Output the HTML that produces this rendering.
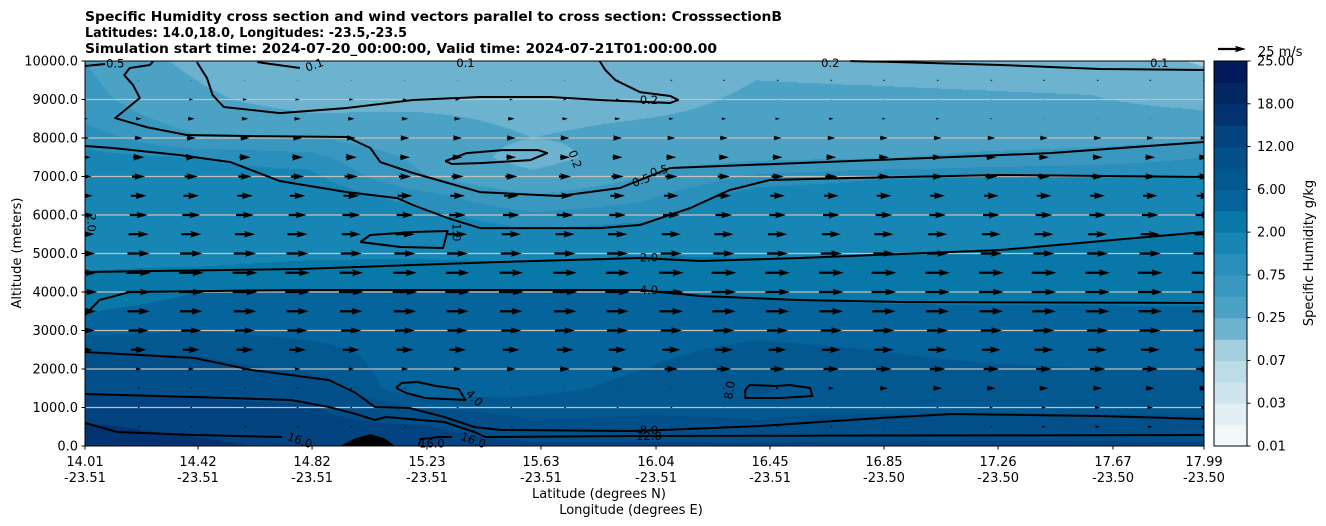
<!DOCTYPE html>
<html><head><meta charset="utf-8"><title>Specific Humidity cross section</title>
<style>
html,body{margin:0;padding:0;background:#fff;}
#wrap{position:relative;width:1326px;height:526px;overflow:hidden;font-family:"DejaVu Sans","Liberation Sans",sans-serif;}
#field{position:absolute;left:85px;top:61px;}
#over{position:absolute;left:0;top:0;}
</style></head>
<body>
<div id="wrap">
<canvas id="field" width="1119" height="385"></canvas>
<svg id="over" width="1326" height="526" xmlns="http://www.w3.org/2000/svg">
 <g font-weight="bold" font-size="13" fill="#000">
  <text x="85" y="21" textLength="697" lengthAdjust="spacingAndGlyphs">Specific Humidity cross section and wind vectors parallel to cross section: CrosssectionB</text>
  <text x="85" y="37" textLength="322" lengthAdjust="spacingAndGlyphs">Latitudes: 14.0,18.0, Longitudes: -23.5,-23.5</text>
  <text x="85" y="53" textLength="632" lengthAdjust="spacingAndGlyphs">Simulation start time: 2024-07-20_00:00:00, Valid time: 2024-07-21T01:00:00.00</text>
 </g>
 <g id="grid"></g>
 <g id="terrain"></g>
 <g id="contours"></g>
 <g id="arrows" clip-path="url(#plotclip)"></g>
 <defs><clipPath id="plotclip"><rect x="85" y="61" width="1119" height="385"/></clipPath></defs>
 <rect x="85" y="61" width="1119" height="385" fill="none" stroke="#000" stroke-width="1"/>
 <g id="yaxis"></g>
 <g id="xaxis"></g>
 <text x="0" y="0" transform="translate(21,253) rotate(-90)" text-anchor="middle" font-size="13">Altitude (meters)</text>
 <text x="599" y="498" text-anchor="middle" font-size="13">Latitude (degrees N)</text>
 <text x="631" y="514" text-anchor="middle" font-size="13">Longitude (degrees E)</text>
 <g id="cbar"></g>
 <text x="0" y="0" transform="translate(1313,253) rotate(-90)" text-anchor="middle" font-size="13">Specific Humidity g/kg</text>
 <g>
  <polygon id="keyarrow" fill="#000"/>
  <text x="1258" y="56" font-size="13">25 m/s</text>
 </g>
</svg>
</div>
<script>
// ---------- data ----------
const levels=[0.01,0.02,0.03,0.05,0.07,0.1,0.25,0.5,0.75,1,2,4,6,8,12,16,18,20,25];
const bandColors=["#f2f8fa","#e2eff4","#cfe5ee","#bcdce7","#a3cfdf","#6db3cf","#4ba2c5","#3a98c0","#2b8fbb","#1886b4","#0878a9","#04649b","#035890","#034f89","#03437f","#023370","#022763","#011a5c"];
const cbarTickLabels=["0.01","0.03","0.07","0.25","0.75","2.00","6.00","12.00","18.00","25.00"];
const gridFrac=[0,0.1,0.2,0.3,0.4,0.5,0.6,0.7,0.8,0.9,1.0];
const gridAlt=[0,500,1000,1500,2000,2500,3000,3500,4000,4500,5000,5500,6000,6500,7000,7500,8000,8500,9000,9500,10000];
const q_f00=[18,16.5,14,11.5,9.5,7.8,5.5,3.9,2.8,2.0,1.9,1.8,1.7,1.5,1.3,1.1,0.9,0.7,0.6,0.55,0.5];
const q_f01=[17,15,13,11,9,7.5,6,5,4,2.1,1.8,1.6,1.4,1.25,1.1,1.0,0.52,0.4,0.3,0.25,0.2];
const q_f02=[15,13.5,12.5,10,7.5,6.5,5.5,4.8,4.1,2.2,1.9,1.7,1.5,1.3,1.1,0.85,0.52,0.3,0.17,0.12,0.1];
const q_f03=[14.5,12.5,8,4.5,5,5.2,5,4.6,4.05,2.3,1.9,1.3,1.1,0.85,0.52,0.45,0.35,0.28,0.2,0.14,0.11];
const q_f04=[13,9,6.8,5.5,5.2,5,4.7,4.4,4.1,2.5,1.7,1.1,0.8,0.52,0.3,0.18,0.25,0.22,0.2,0.15,0.12];
const q_f05=[13,8.8,7.5,6.5,6,5.5,5,4.5,4.05,3,1.9,1.2,0.9,0.7,0.5,0.4,0.3,0.25,0.2,0.17,0.15];
const q_f06=[13,8.1,7.8,8.2,7.5,6.5,5.5,4.6,3.8,2.8,1.8,1.6,1.4,1.2,0.8,0.45,0.35,0.3,0.28,0.25,0.22];
const q_f07=[13,9,7.5,7,6.5,6,5.2,4.4,3.5,2.6,1.95,1.7,1.5,1.25,0.95,0.48,0.38,0.32,0.28,0.24,0.2];
const q_f08=[13,9.5,7.5,6.8,6.2,5.6,5,4.3,3.4,2.6,2.05,1.7,1.5,1.25,1.0,0.55,0.4,0.32,0.27,0.23,0.2];
const q_f09=[13,9.3,7.4,6.6,6,5.5,5,4.3,3.4,2.8,2.3,1.8,1.5,1.3,1.05,0.6,0.42,0.32,0.26,0.22,0.17];
const q_f10=[13,9,7.4,6.6,6,5.5,5,4.3,3.3,2.9,2.5,2.05,1.6,1.3,1.0,0.75,0.45,0.3,0.2,0.13,0.09];
const qGrid=[q_f00,q_f01,q_f02,q_f03,q_f04,q_f05,q_f06,q_f07,q_f08,q_f09,q_f10];

// wind (u component along section, m/s)
const windFrac=[0,0.048,0.095,0.143,0.190,0.238,0.286,0.333,0.381,0.429,0.476,0.524,0.571,0.619,0.667,0.714,0.762,0.810,0.857,0.905,0.952,1.0];
const windAlt=[500,1000,1500,2000,2500,3000,3500,4000,4500,5000,5500,6000,6500,7000,7500,8000,8500,9000,9500];
const u0500=[-1,-2,-2,-2,-2,-2,-2,-2,-2,-1,-1,-1,0.5,0.5,0.5,1,1,2,3,4,4,4];
const u1000=[0.5,0.5,0.5,0.5,0.5,0.5,0.5,0.5,0.5,0.5,0.5,0.5,1,1,1,1,2,3,4,5,5,5];
const u1500=[0.5,0.5,0.5,0.5,0.5,0.5,0.5,1,1,1,1,1,2,3,5,7,8,8,8,8,8,8];
const u2000=[4,5,5,5,5,5,6,7,8,9,10,12,13,13,14,14,14,14,14,14,14,14];
const u2500=[14,14,15,15,15,15,15,15,15,15,16,16,16,16,17,17,17,17,17,17,17,17];
const u3000=[18,18,18,18,18,18,18,18,18,18,19,19,19,19,19,19,19,19,19,19,19,19];
const u3500=[20,20,20,20,20,20,20,20,20,20,20,21,21,21,21,21,21,21,21,21,21,21];
const u4000=[22,22,22,22,22,22,22,22,22,22,22,22,22,22,22,22,22,22,22,22,22,22];
const u4500=[21,22,22,22,22,21,21,21,21,21,21,22,22,22,22,22,22,22,22,22,22,22];
const u5000=[19,20,20,20,20,19,19,19,19,19,19,19,19,19,19,19,19,19,19,19,19,19];
const u5500=[17,18,18,18,18,17,17,17,17,17,17,17,17,17,17,17,17,17,17,17,17,17];
const u6000=[16,16,16,16,16,16,15,15,15,15,15,15,15,15,15,15,15,15,15,15,15,15];
const u6500=[14,14,14,14,14,14,13,13,13,13,13,13,13,13,13,13,13,13,13,13,13,13];
const u7000=[12,12,12,12,12,12,11,11,11,11,11,11,11,11,11,11,11,11,11,11,11,11];
const u7500=[10,10,10,10,10,10,9,9,9,9,9,9,9,9,9,9,9,9,9,9,9,9];
const u8000=[7,7,8,8,8,8,8,8,8,8,8,7,7,7,7,7,7,7,7,7,6,6];
const u8500=[5,5,6,6,6,6,6,6,6,5,5,4,4,4,4,3,3,2,1,1,1,1];
const u9000=[3,3,4,4,4,4,4,4,3,3,3,1,1,1,1,1,1,1,1,1,1,1];
const u9500=[1,1,1,1,1,1,1,1,1,1,0.5,0.5,0.5,0.5,0.5,0.5,0.5,0.5,0.5,0.5,0.5,0.5];
const uRows=[u0500,u1000,u1500,u2000,u2500,u3000,u3500,u4000,u4500,u5000,u5500,u6000,u6500,u7000,u7500,u8000,u8500,u9000,u9500];
const keySpeed=25;

// contour lines (fraction along section, altitude m)
const c16a_f=[0,0.029,0.098,0.176], c16a_alt=[597,364,286,234];
const c16b_f=[0.298,0.300,0.317,0.328], c16b_alt=[0,182,234,234];
const c12_f=[0,0.098,0.184,0.218,0.242,0.259,0.269,0.321,0.348,0.358,0.488,1];
const c12_alt=[1350,1273,1195,1013,831,675,753,623,364,234,260,286];
const c8_f=[0,0.098,0.149,0.218,0.242,0.259,0.290,0.321,0.348,0.372,0.488,0.516,0.603,0.710,0.775,0.907,1];
const c8_alt=[2441,2285,1974,1714,1376,1013,987,753,493,416,390,416,519,727,831,779,701];
const c8loop_f=[0.590,0.594,0.617,0.630,0.648,0.650,0.621,0.590,0.590];
const c8loop_alt=[1454,1584,1558,1584,1506,1298,1247,1247,1454];
const c4_f=[0,0.013,0.040,0.192,0.496,0.550,0.639,0.728,1];
const c4_alt=[3402,3792,4000,4052,4052,3896,3792,3740,3714];
const c4loop_f=[0.278,0.283,0.297,0.314,0.334,0.340,0.304,0.287,0.278];
const c4loop_alt=[1506,1636,1662,1558,1480,1195,1247,1376,1506];
const c2_f=[0,0.192,0.371,0.496,0.550,0.639,0.818,1];
const c2_alt=[4519,4597,4778,4883,4805,4883,5090,5558];
const c1_f=[0,0.025,0.085,0.130,0.174,0.234,0.279,0.293,0.324,0.353,0.460,0.496,0.541,0.576,0.612,0.684,0.818,1];
const c1_alt=[7791,7739,7557,7375,6882,6596,6440,6259,5921,5661,5661,5739,6181,6648,6908,6960,7038,6986];
const c1loop_f=[0.246,0.255,0.293,0.324,0.320,0.282,0.246];
const c1loop_alt=[5298,5480,5558,5584,5142,5168,5298];
const c05_f=[0.061,0.058,0.040,0.035,0.043,0.049,0.027,0.055,0.091,0.145,0.234,0.255,0.264,0.293,0.353,0.424,0.478,0.523,0.639,0.773,0.862,1];
const c05_alt=[9998,9895,9817,9635,9375,9038,8518,8284,8077,8051,8025,7739,7375,7090,6596,6493,6700,7220,7350,7505,7609,7895];
const c05b_f=[0,0.018], c05b_alt=[9869,9921];
const c02_f=[0.460,0.465,0.474,0.496,0.523,0.530,0.523,0.460,0.416,0.353,0.293,0.234,0.174,0.124,0.114,0.109,0.100];
const c02_alt=[9998,9765,9505,9193,9090,8986,8908,8986,9064,9064,8986,8778,8648,8804,9115,9557,9972];
const c02loop_f=[0.322,0.341,0.373,0.405,0.413,0.398,0.355,0.328,0.322];
const c02loop_alt=[7401,7609,7687,7687,7609,7427,7350,7324,7401];
const c02r_f=[0.684,0.728,0.818,0.907,1], c02r_alt=[9998,9972,9895,9791,9765];
const c01_f=[0.154,0.192], c01_alt=[9972,9817];
const contourSet=[[c16a_f,c16a_alt],[c16b_f,c16b_alt],[c12_f,c12_alt],[c8_f,c8_alt],[c8loop_f,c8loop_alt],[c4_f,c4_alt],[c4loop_f,c4loop_alt],[c2_f,c2_alt],[c1_f,c1_alt],[c1loop_f,c1loop_alt],[c05_f,c05_alt],[c05b_f,c05b_alt],[c02_f,c02_alt],[c02loop_f,c02loop_alt],[c02r_f,c02r_alt],[c01_f,c01_alt]];
// contour labels: text, frac, alt, rotation
const labelText=["16.0","16.0","16.0","12.0","8.0","8.0","4.0","4.0","2.0","2.0","1.0","0.5","0.5","0.5","0.2","0.2","0.2","0.1","0.1","0.1"];
const labelFrac=[0.192,0.310,0.347,0.504,0.504,0.576,0.504,0.348,0.504,0.006,0.332,0.027,0.497,0.513,0.504,0.438,0.666,0.205,0.340,0.960];
const labelAlt=[150,60,150,260,420,1450,4050,1250,4900,5800,5550,9930,6900,7150,8990,7450,9950,9900,9950,9950];
const labelRot=[20,0,20,0,0,-80,0,45,0,90,90,0,-20,-15,0,70,0,-20,0,0];
const terrainFrac=[0.228,0.241,0.255,0.268,0.277];
const terrainAlt=[0,195,310,195,0];

const xTickFrac=[0,0.101,0.2029,0.3056,0.4075,0.5103,0.6122,0.714,0.816,0.9187,1];
const xTickLat=["14.01","14.42","14.82","15.23","15.63","16.04","16.45","16.85","17.26","17.67","17.99"];
const xTickLon=["-23.51","-23.51","-23.51","-23.51","-23.51","-23.51","-23.51","-23.50","-23.50","-23.50","-23.50"];
const yTicks=[0,1000,2000,3000,4000,5000,6000,7000,8000,9000,10000];

// ---------- scales ----------
const PX0=85,PW=1119,PY0=61,PH=385,ALTMAX=10000;
function X(f){return PX0+PW*f;}
function Y(a){return PY0+PH*(1-a/ALTMAX);}
const NS="http://www.w3.org/2000/svg";
function mk(tag,parent){const e=document.createElementNS(NS,tag);parent.appendChild(e);return e;}

// ---------- filled field ----------
(function(){
 const cv=document.getElementById('field');const ctx=cv.getContext('2d');
 const img=ctx.createImageData(PW,PH);
 const rgb=bandColors.map(c=>[parseInt(c.substr(1,2),16),parseInt(c.substr(3,2),16),parseInt(c.substr(5,2),16)]);
 const nC=gridFrac.length,nR=gridAlt.length;
 const lg=qGrid.map(col=>col.map(v=>Math.log(v)));
 for(let py=0;py<PH;py++){
  const alt=ALTMAX*(1-(py+0.5)/PH);
  let i=0;while(i<nR-2&&gridAlt[i+1]<alt)i++;
  const ti=Math.min(1,Math.max(0,(alt-gridAlt[i])/(gridAlt[i+1]-gridAlt[i])));
  for(let px=0;px<PW;px++){
   const f=(px+0.5)/PW;
   let j=0;while(j<nC-2&&gridFrac[j+1]<f)j++;
   const tj=Math.min(1,Math.max(0,(f-gridFrac[j])/(gridFrac[j+1]-gridFrac[j])));
   const a=lg[j][i]*(1-ti)+lg[j][i+1]*ti, b=lg[j+1][i]*(1-ti)+lg[j+1][i+1]*ti;
   const q=Math.exp(a*(1-tj)+b*tj);
   let k=0;while(k<levels.length-2&&q>=levels[k+1])k++;
   const c=rgb[k];const o=(py*PW+px)*4;
   img.data[o]=c[0];img.data[o+1]=c[1];img.data[o+2]=c[2];img.data[o+3]=255;
  }
 }
 ctx.putImageData(img,0,0);
})();

// ---------- grid lines ----------
const gridG=document.getElementById('grid');
yTicks.forEach(v=>{ if(v===0||v===ALTMAX) return;
 const l=mk('line',gridG);
 
 
 l.setAttribute('x1',PX0);l.setAttribute('x2',PX0+PW);l.setAttribute('y1',Y(v));l.setAttribute('y2',Y(v));
 l.setAttribute('stroke','#c4c0bc');l.setAttribute('stroke-width','1.2');
});

// ---------- terrain ----------
(function(){
 const p=mk('polygon',document.getElementById('terrain'));
 
 
 p.setAttribute('points',terrainFrac.map((f,i)=>X(f)+','+Y(terrainAlt[i])).join(' '));
 p.setAttribute('fill','#000');
})();

// ---------- contours ----------
const cg=document.getElementById('contours');
contourSet.forEach(c=>{
 const p=mk('polyline',cg);
 
 
 p.setAttribute('points',c[0].map((f,i)=>X(f).toFixed(1)+','+Y(c[1][i]).toFixed(1)).join(' '));
 p.setAttribute('fill','none');p.setAttribute('stroke','#000');p.setAttribute('stroke-width','2');p.setAttribute('stroke-linejoin','round');
});
labelText.forEach((t,i)=>{
 const x=X(labelFrac[i]),y=Y(labelAlt[i]);
 const e=mk('text',cg);
 
 
 e.setAttribute('transform','translate('+x+','+y+') rotate('+labelRot[i]+')');
 e.setAttribute('text-anchor','middle');e.setAttribute('dominant-baseline','central');
 e.setAttribute('font-size','11.5');e.textContent=t;
});

// ---------- arrows ----------
const PXPERMS=28/keySpeed, W=2.2, HL=5*W, HA=4.5*W, HW=3*W;
function arrowPts(cx,cy,u,pivotMiddle){
 const L=Math.abs(u)*PXPERMS, s=u<0?-1:1;
 let pts;
 if(L<1){const r=0.8;pts=[[-r,-r*0.6],[r,-r*0.6],[r,r*0.6],[-r,r*0.6]];}
 else if(L<HL){const k=L/HL;pts=[[0,-W/2],[HL-HA,-W/2],[0,-HW/2],[HL,0],[0,HW/2],[HL-HA,W/2],[0,W/2]].map(p=>[p[0]*k,p[1]*k]);}
 else pts=[[0,-W/2],[L-HA,-W/2],[L-HL,-HW/2],[L,0],[L-HL,HW/2],[L-HA,W/2],[0,W/2]];
 const off=pivotMiddle?(L<1?0:L/2):0;
 return pts.map(p=>((cx+s*(p[0]-off)).toFixed(1))+','+(cy+p[1]).toFixed(1)).join(' ');
}
const ag=document.getElementById('arrows');
uRows.forEach((row,r)=>{
 row.forEach((u,c)=>{
  const p=mk('polygon',ag);
  
  
  p.setAttribute('points',arrowPts(X(windFrac[c]),Y(windAlt[r]),u,true));
  p.setAttribute('fill','#000');
 });
});
document.getElementById('keyarrow').setAttribute('points',arrowPts(1218,49,keySpeed,false));

// ---------- axes ----------
const ya=document.getElementById('yaxis');
yTicks.forEach(v=>{
 const y=Y(v);
 const l=mk('line',ya);
 
 
 l.setAttribute('x1',PX0-3.5);l.setAttribute('x2',PX0);l.setAttribute('y1',y);l.setAttribute('y2',y);l.setAttribute('stroke','#000');
 const t=mk('text',ya);
 
 
 t.setAttribute('x',PX0-7);t.setAttribute('y',y+4.5);t.setAttribute('text-anchor','end');t.setAttribute('font-size','13');
 t.textContent=v.toFixed(1);
});
const xa=document.getElementById('xaxis');
xTickFrac.forEach((f,i)=>{
 const x=X(f);
 const l=mk('line',xa);
 
 
 l.setAttribute('x1',x);l.setAttribute('x2',x);l.setAttribute('y1',PY0+PH);l.setAttribute('y2',PY0+PH+3.5);l.setAttribute('stroke','#000');
 const t=mk('text',xa);
 
 
 t.setAttribute('x',x);t.setAttribute('y',466);t.setAttribute('text-anchor','middle');t.setAttribute('font-size','13');
 t.textContent=xTickLat[i];
 const t2=mk('text',xa);
 
 
 t2.setAttribute('x',x);t2.setAttribute('y',482);t2.setAttribute('text-anchor','middle');t2.setAttribute('font-size','13');
 t2.textContent=xTickLon[i];
});

// ---------- colorbar ----------
const cb=document.getElementById('cbar');
const CBX=1214,CBW=33,nb=bandColors.length,bh=PH/nb;
bandColors.forEach((c,i)=>{
 const r=mk('rect',cb);
 
 
 r.setAttribute('x',CBX);r.setAttribute('y',(PY0+PH-(i+1)*bh).toFixed(2));r.setAttribute('width',CBW);r.setAttribute('height',(bh+0.6).toFixed(2));r.setAttribute('fill',c);
});
const fr=mk('rect',cb);


fr.setAttribute('x',CBX);fr.setAttribute('y',PY0);fr.setAttribute('width',CBW);fr.setAttribute('height',PH);fr.setAttribute('fill','none');fr.setAttribute('stroke','#000');
cbarTickLabels.forEach((t,i)=>{
 const y=PY0+PH-i*2*bh;
 const l=mk('line',cb);
 
 
 l.setAttribute('x1',CBX+CBW);l.setAttribute('x2',CBX+CBW+3.5);l.setAttribute('y1',y);l.setAttribute('y2',y);l.setAttribute('stroke','#000');
 const e=mk('text',cb);
 
 
 e.setAttribute('x',CBX+CBW+10);e.setAttribute('y',y+4.5);e.setAttribute('font-size','13');
 e.textContent=t;
});
</script>
</body></html>
